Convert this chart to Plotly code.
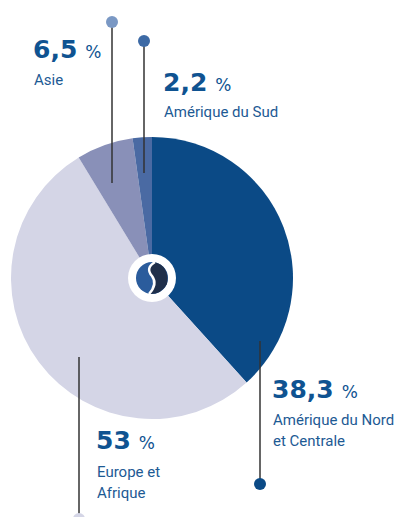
import plotly.graph_objects as go

W, H = 411, 517

regions = ["Amérique du Nord et Centrale", "Europe et Afrique", "Asie", "Amérique du Sud"]
shares = [38.3, 53.0, 6.5, 2.2]
share_labels = ["38,3", "53", "6,5", "2,2"]
slice_colors = ["#0b4a86", "#d4d5e6", "#8990b8", "#4a6aa3"]

def px(x):
    return x / W

def py(y):
    return 1 - y / H

fig = go.Figure()
fig.add_trace(go.Pie(
    labels=regions, values=shares, sort=False, direction="clockwise", rotation=0,
    marker=dict(colors=slice_colors, line=dict(width=0)),
    textinfo="none", hoverinfo="label+value", showlegend=False,
    domain=dict(x=[px(11), px(293)], y=[py(419), py(137)]),
))

shapes = []
line_col = "#333333"
leaders = [
    (112, 22, 183, 22, "#7a98c4"),
    (144, 41, 173, 41, "#3d6aa5"),
    (260, 341, 484, 484, "#0b4a86"),
    (79, 357, 519, 519, "#d4d5e6"),
]
for x, y0, y1, dy, dc in leaders:
    shapes.append(dict(type="line", xref="paper", yref="paper",
                       x0=px(x), x1=px(x), y0=py(y0), y1=py(y1),
                       line=dict(color=line_col, width=1.5), layer="above"))
    r = 6
    shapes.append(dict(type="circle", xref="paper", yref="paper",
                       x0=px(x - r), x1=px(x + r), y0=py(dy + r), y1=py(dy - r),
                       fillcolor=dc, line=dict(width=0), layer="above"))

cx, cy = 152, 278
R1, R2 = 24, 16
shapes.append(dict(type="circle", xref="paper", yref="paper",
                   x0=px(cx - R1), x1=px(cx + R1), y0=py(cy + R1), y1=py(cy - R1),
                   fillcolor="white", line=dict(width=0), layer="above"))
shapes.append(dict(type="circle", xref="paper", yref="paper",
                   x0=px(cx - R2), x1=px(cx + R2), y0=py(cy + R2), y1=py(cy - R2),
                   fillcolor="#2b5c9c", line=dict(width=0), layer="above"))
def P(x, y):
    return f"{px(x):.5f},{py(y):.5f}"
shapes.append(dict(type="path", xref="paper", yref="paper",
                   path=f"M{P(cx+2, cy-16)} Q{P(cx+18, cy-12)} {P(cx+15, cy+6)} Q{P(cx+10, cy+16)} {P(cx-2, cy+16)} Q{P(cx+6, cy+4)} {P(cx-1, cy-4)} Q{P(cx-6, cy-12)} {P(cx+2, cy-16)} Z",
                   fillcolor="#1f2f4a", line=dict(width=0), layer="above"))
shapes.append(dict(type="path", xref="paper", yref="paper",
                   path=f"M{P(cx+3, cy-16)} Q{P(cx-7, cy-10)} {P(cx, cy-2)} Q{P(cx+6, cy+6)} {P(cx-3, cy+16)}",
                   line=dict(color="white", width=2.5), layer="above"))

num_col = "#0f5391"
txt_col = "#1d5a94"
num_font = "DejaVu Sans"
annos = []
items = [
    (31, 50, 80, share_labels[2], ["Asie"]),
    (161, 82, 112, share_labels[3], ["Amérique du Sud"]),
    (270, 389, 420, share_labels[0], ["Amérique du Nord", "et Centrale"]),
    (94, 440, 472, share_labels[1], ["Europe et", "Afrique"]),
]
for x, yn, yl, num, lab in items:
    annos.append(dict(x=px(x), y=py(yn), xref="paper", yref="paper",
                      xanchor="left", yanchor="middle", showarrow=False,
                      text=f"<b>{num}</b> <span style='font-size:17px'>%</span>",
                      font=dict(family=num_font, size=25, color=num_col)))
    for i, t in enumerate(lab):
        annos.append(dict(x=px(x + 1), y=py(yl + i * 21), xref="paper", yref="paper",
                          xanchor="left", yanchor="middle", showarrow=False,
                          text=t, font=dict(family="Roboto", size=15, color=txt_col)))

fig.update_layout(
    width=W, height=H, margin=dict(l=0, r=0, t=0, b=0),
    paper_bgcolor="white", plot_bgcolor="white",
    shapes=shapes, annotations=annos,
)
fig.write_html("out.html", config={"displayModeBar": False},
               post_script="document.body.style.margin='0';document.body.style.overflow='hidden';")
